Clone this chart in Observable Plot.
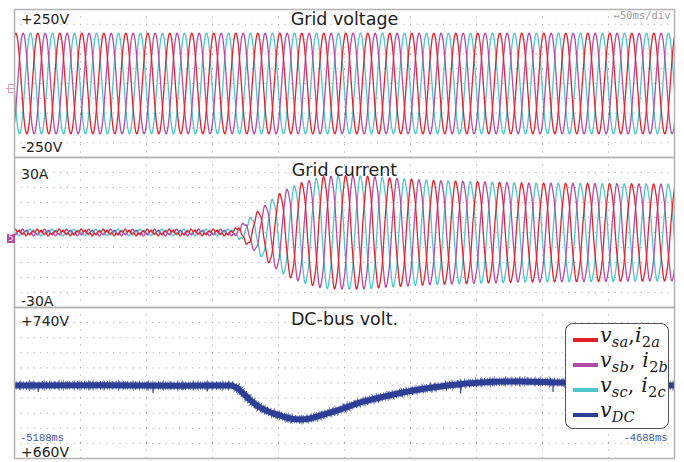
<!DOCTYPE html>
<html>
<head>
<meta charset="utf-8">
<script src="https://cdn.jsdelivr.net/npm/d3@7"></script>
<script src="https://cdn.jsdelivr.net/npm/@observablehq/plot@0.6"></script>
<style>
  html, body { margin: 0; padding: 0; background: #fff; }
  #scope { position: relative; width: 684px; height: 462px; overflow: hidden; font-family: "DejaVu Sans", sans-serif; }
  #scope > svg { position: absolute; left: 0; overflow: visible; }
  #legend { position: absolute; left: 565px; top: 323px; width: 104px; height: 106px; box-sizing: border-box;
            border: 1px solid #555; border-radius: 8px; background: #fff; }
  .lg-row { position: absolute; left: 7px; height: 0; }
  .lg-sw { position: absolute; left: 0; top: -2px; width: 25px; height: 4px; }
  .lg-lab { position: absolute; left: 27px; top: -15px; white-space: nowrap; font-family: "DejaVu Serif", serif;
            font-size: 20.5px; line-height: 20px; color: #1a1a1a; letter-spacing: 0.2px; }
  .lg-lab i { font-style: italic; }
  .lg-lab sub { font-size: 14.5px; vertical-align: -5px; line-height: 0; }
  .gnd1 { position: absolute; left: 8px; top: 84px; width: 5px; height: 7px; border: 1px solid #d99ccc; border-right: none; }
  .gnd1::after { content: ""; position: absolute; left: -3px; top: 3px; width: 8px; height: 1px; background: #d99ccc; }
  .gnd2 { position: absolute; left: 7px; top: 234px; width: 8px; height: 9px; background: #b04aa4; color: #fff;
          font-size: 8px; line-height: 9px; text-align: center; font-family: "DejaVu Sans Mono", monospace; }
</style>
</head>
<body>
<div id="scope"></div>
<script>
// ---- acquisition window and scale settings (ms, V, A) ----
const timeWindow = [-5188, -4688];          // 50 ms/div, 10 divisions
const voltageRange = [-250, 250];
const currentRange = [-30, 30];
const dcRange = [660, 740];

// ---- three-phase grid quantities ----
const phaseNames = ["a", "b", "c"];
const phaseLagDeg = [0, 120, 240];          // positive sequence
const lineFrequency = 60;                   // Hz
const voltagePeak = 170;                    // V
const voltageCrestTime = -5187;             // first crest of v_sa, ms

// Grid-current peak envelope (before/after the load step), ms -> A
const currentEnvTime = [-5188, -5022, -5013, -5004, -4996, -4988, -4980, -4971, -4955, -4938, -4921, -4905, -4888, -4871, -4838, -4805, -4688];
const currentEnvPeak = [0.9, 0.9, 4, 8, 11.5, 15, 17.5, 19.5, 22, 22.4, 22.2, 21.5, 21, 20.5, 20, 19.5, 19];
const currentHarmonic5 = 0.5;               // A, residual 5th-harmonic ripple
const currentCrestTime = -5187;

// DC-bus voltage trace, ms -> V
const dcTime = [-5188, -5120, -5060, -5024, -5017, -5009, -5002, -4994, -4987, -4979, -4971, -4964, -4956, -4941, -4926, -4911, -4886, -4860, -4835, -4805, -4774, -4729, -4688];
const dcVolt = [698.7, 698.8, 698.6, 698.7, 696.0, 690.7, 687.0, 684.4, 682.8, 681.2, 680.7, 681.2, 682.8, 686.0, 689.7, 692.3, 696.0, 698.7, 700.3, 700.8, 700.3, 699.2, 698.7];
const dcSpikeTime = [-5170, -5083, -5042, -4850, -4780];
const dcSpikeLow  = [695.0, 694.5, 695.2, 694.2, 695.0];
const dcSpikeTop  = [698.7, 698.7, 698.7, 698.2, 700.6];

// ---- legend text ----
const legendV = ["sa", "sb", "sc", "DC"];
const legendI = ["2a", "2b", "2c", null];
const legendSep = [",", ", ", ", ", null];

// ---- styling ----
const phaseColors = ["#e3212b", "#b24ba7", "#4fc4cd"];
const dcColor = "#2c3e96";
const frameColor = "#b3b3b3";
const dotColor = "#a0a0a0";
const drawOrder = [2, 1, 0];                // cyan, magenta, red on top

// ---- waveform samples ----
const dt = 0.25;
const times = d3.range(timeWindow[0], timeWindow[1] + dt / 2, dt);
const omega = 2 * Math.PI * lineFrequency / 1000;   // rad per ms
const envelope = d3.scaleLinear().domain(currentEnvTime).range(currentEnvPeak).clamp(true);

const voltageRows = [], currentRows = [];
for (const k of drawOrder) {
  const lag = phaseLagDeg[k] * Math.PI / 180;
  for (const t of times) {
    voltageRows.push({t, phase: phaseNames[k], value: voltagePeak * Math.cos(omega * (t - voltageCrestTime) - lag)});
    const th = omega * (t - currentCrestTime) - lag;
    currentRows.push({t, phase: phaseNames[k], value: envelope(t) * Math.cos(th) + currentHarmonic5 * Math.cos(5 * th + 1)});
  }
}
const dcRows = dcTime.map((t, i) => ({t, v: dcVolt[i]}));
const spikeRows = dcSpikeTime.map((t, i) => ({t, lo: dcSpikeLow[i], hi: dcSpikeTop[i]}));

const colorScale = {domain: phaseNames, range: phaseColors};
const xGrid = d3.range(1, 10).map(i => timeWindow[0] + (timeWindow[1] - timeWindow[0]) * i / 10);
const yGrid = r => d3.range(1, 10).map(i => r[0] + (r[1] - r[0]) * i / 10);

const root = document.getElementById("scope");

function gridMarks(range) {
  return [
    Plot.ruleY(yGrid(range), {stroke: dotColor, strokeWidth: 1, strokeDasharray: "1 5.6"}),
    Plot.ruleX(xGrid, {stroke: dotColor, strokeWidth: 1, strokeDasharray: "1 6.5"})
  ];
}

function label(text, opts) {
  return Plot.text([text], {text: d => d, lineAnchor: "top", fill: "#222", ...opts});
}

function panel(top, height, range, marks) {
  const svg = Plot.plot({
    width: 684, height,
    marginLeft: 14, marginRight: 10, marginTop: 0, marginBottom: 0,
    x: {domain: timeWindow, axis: null},
    y: {domain: range, axis: null},
    color: colorScale,
    style: {background: "transparent", overflow: "visible", fontFamily: "DejaVu Sans, sans-serif"},
    marks
  });
  svg.style.position = "absolute";
  svg.style.top = top + "px";
  root.append(svg);
  return svg;
}

// Grid voltage
panel(9, 148, voltageRange, [
  ...gridMarks(voltageRange),
  Plot.line(voltageRows, {x: "t", y: "value", z: "phase", stroke: "phase", strokeWidth: 1.3}),
  Plot.frame({stroke: frameColor, strokeWidth: 1.5}),
  label("Grid voltage", {frameAnchor: "top", dy: 3, fontSize: 17.5}),
  label("+250V", {frameAnchor: "top-left", textAnchor: "start", dx: 6.5, dy: 5, fontSize: 14}),
  label("-250V", {frameAnchor: "top-left", textAnchor: "start", dx: 6.5, dy: 133, fontSize: 14}),
  label("\u219450ms/div", {frameAnchor: "top-right", textAnchor: "end", dx: -4, dy: 2.5, fontSize: 10.5, fill: "#9c9c9c", fontFamily: "DejaVu Sans Mono, monospace"})
]);

// Grid current
panel(157, 150, currentRange, [
  ...gridMarks(currentRange),
  Plot.line(currentRows, {x: "t", y: "value", z: "phase", stroke: "phase", strokeWidth: 1.3}),
  Plot.frame({stroke: frameColor, strokeWidth: 1.5}),
  label("Grid current", {frameAnchor: "top", dy: 5.7, fontSize: 17.5}),
  label("30A", {frameAnchor: "top-left", textAnchor: "start", dx: 6.5, dy: 11.3, fontSize: 14}),
  label("-30A", {frameAnchor: "top-left", textAnchor: "start", dx: 6.5, dy: 139, fontSize: 14})
]);

// DC-bus voltage: solid core of the ripple band plus dashed fringes for the switching noise
const fringe = {x: "t", y: "v", stroke: dcColor, curve: "monotone-x", strokeLinecap: "butt"};
panel(307, 151, dcRange, [
  ...gridMarks(dcRange),
  Plot.line(dcRows, {...fringe, strokeWidth: 11, strokeDasharray: "0.6 5.1 0.5 8.3 0.8 3.7 0.5 10.2", strokeOpacity: 0.8}),
  Plot.line(dcRows, {...fringe, strokeWidth: 8.5, strokeDasharray: "0.7 1.2 0.5 2.0 1.0 0.8 0.6 1.6 0.8 2.4"}),
  Plot.line(dcRows, {...fringe, strokeWidth: 6}),
  Plot.ruleX(spikeRows, {x: "t", y1: "lo", y2: "hi", stroke: dcColor, strokeWidth: 1.2}),
  Plot.frame({stroke: frameColor, strokeWidth: 1.5}),
  label("DC-bus volt.", {frameAnchor: "top", dy: 5, fontSize: 17.5}),
  label("+740V", {frameAnchor: "top-left", textAnchor: "start", dx: 6.5, dy: 9, fontSize: 14}),
  label("+660V", {frameAnchor: "top-left", textAnchor: "start", dx: 6.5, dy: 139.5, fontSize: 14}),
  label(timeWindow[0] + "ms", {frameAnchor: "top-left", textAnchor: "start", dx: 5.5, dy: 126, fontSize: 10.5, fill: "#3b57aa", fontFamily: "Liberation Mono, monospace"}),
  label(timeWindow[1] + "ms", {frameAnchor: "top-right", textAnchor: "end", dx: -7, dy: 126, fontSize: 10.5, fill: "#3b57aa", fontFamily: "Liberation Mono, monospace"})
]);

// channel ground markers
const g1 = document.createElement("div"); g1.className = "gnd1"; root.append(g1);
const g2 = document.createElement("div"); g2.className = "gnd2"; g2.textContent = "5"; root.append(g2);

// legend
const legend = d3.select(root).append("div").attr("id", "legend");
const rowY = [16, 40.5, 66, 91];
const swatchColors = [...phaseColors, dcColor];
legendV.forEach((v, i) => {
  const row = legend.append("div").attr("class", "lg-row").style("top", rowY[i] + "px");
  row.append("div").attr("class", "lg-sw").style("background", swatchColors[i]);
  const lab = row.append("div").attr("class", "lg-lab");
  let html = `<i>v</i><sub><i>${v}</i></sub>`;
  if (legendI[i]) {
    const num = legendI[i].slice(0, 1), letter = legendI[i].slice(1);
    html += `${legendSep[i]}<i>i</i><sub>${num}<i>${letter}</i></sub>`;
  }
  lab.html(html);
});
</script>
</body>
</html>
